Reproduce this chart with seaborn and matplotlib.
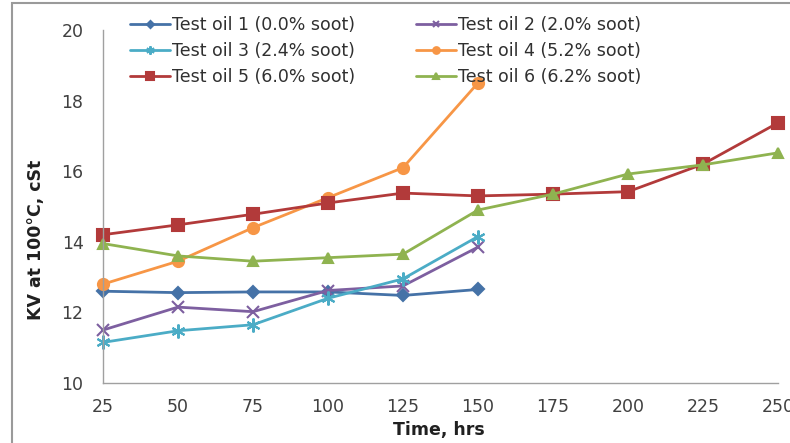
import matplotlib
matplotlib.use("Agg")
import matplotlib.pyplot as plt
import seaborn as sns
import pandas as pd
from matplotlib.patches import Rectangle

# Test durations (hrs)
hours_short = [25, 50, 75, 100, 125, 150]
hours_long = [25, 50, 75, 100, 125, 150, 175, 200, 225, 250]

# Kinematic viscosity at 100 °C (cSt) for each test oil
oil1 = [12.60, 12.56, 12.58, 12.58, 12.48, 12.65]
oil2 = [11.50, 12.15, 12.02, 12.62, 12.75, 13.85]
oil3 = [11.15, 11.48, 11.65, 12.40, 12.95, 14.15]
oil4 = [12.80, 13.45, 14.40, 15.25, 16.10, 18.50]
oil5 = [14.20, 14.48, 14.78, 15.10, 15.38, 15.30, 15.35, 15.42, 16.20, 17.37]
oil6 = [13.95, 13.60, 13.45, 13.55, 13.65, 14.90, 15.35, 15.92, 16.18, 16.52]

labels = ["Test oil 1 (0.0% soot)", "Test oil 2 (2.0% soot)",
          "Test oil 3 (2.4% soot)", "Test oil 4 (5.2% soot)",
          "Test oil 5 (6.0% soot)", "Test oil 6 (6.2% soot)"]
x_ticks = [25, 50, 75, 100, 125, 150, 175, 200, 225, 250]
y_ticks = [10, 12, 14, 16, 18, 20]

series = [
    (hours_short, oil1, "#4572A7", "D", 6),
    (hours_short, oil2, "#7D5FA0", "x", 8),
    (hours_short, oil3, "#4BACC6", (6, 2, 0), 10),
    (hours_short, oil4, "#F79646", "o", 8),
    (hours_long, oil5, "#B23A3A", "s", 9),
    (hours_long, oil6, "#8FB350", "^", 7.5),
]

sns.set_theme(style="white")
plt.rcParams["font.family"] = ["DejaVu Sans"]

fig = plt.figure(figsize=(7.9, 4.43), dpi=100)
W, H = 790, 443
ax = fig.add_axes([103 / W, 1 - 383 / H, (778 - 103) / W, (383 - 30) / H])

handles = []
for (xs, ys, color, marker, ms), lab in zip(series, labels):
    df = pd.DataFrame({"Time": xs, "KV": ys})
    sns.lineplot(data=df, x="Time", y="KV", ax=ax, color=color, marker=marker,
                 markersize=ms, linewidth=2, markeredgecolor=color,
                 markeredgewidth=1.5, label=lab, legend=False, clip_on=False)
    handles.append(ax.lines[-1])

ax.set_xlim(25, 250)
ax.set_ylim(10, 20)
ax.set_xticks(x_ticks)
ax.set_yticks(y_ticks)
ax.tick_params(axis="both", labelsize=12.5, colors="#404040", length=5,
               width=0.8, direction="out")
ax.tick_params(axis="y", pad=9)
ax.tick_params(axis="x", pad=6)
ax.tick_params(axis="both", color="#A0A0A0")
for side in ("top", "right"):
    ax.spines[side].set_visible(False)
for side in ("left", "bottom"):
    ax.spines[side].set_color("#A0A0A0")
    ax.spines[side].set_linewidth(1)

ax.set_xlabel("Time, hrs", fontsize=12.5, fontweight="bold", color="#202020")
ax.set_ylabel("KV at 100\u00b0C, cSt", fontsize=12.5, fontweight="bold",
              color="#202020")
ax.xaxis.set_label_coords(0.497, -0.108)
ax.yaxis.set_label_coords(-0.086, 0.405)

order = [0, 2, 4, 1, 3, 5]
leg = fig.legend([handles[i] for i in order], [labels[i] for i in order],
                 ncol=2, loc="upper left", bbox_to_anchor=(130 / W, 1 - 16 / H),
                 frameon=False, fontsize=12.5, handlelength=2.3,
                 handletextpad=0.1, columnspacing=3.55, labelspacing=0.45,
                 borderaxespad=0, borderpad=0, markerscale=0.6)
for t in leg.get_texts():
    t.set_color("#303030")

# thin grey frame around the chart area
fig.patches.append(Rectangle((12 / W, -0.1), 1.2, 1 - 3 / H + 0.1,
                             transform=fig.transFigure, fill=False,
                             edgecolor="#9A9A9A", linewidth=1.5))

fig.savefig("out.png", dpi=100)
